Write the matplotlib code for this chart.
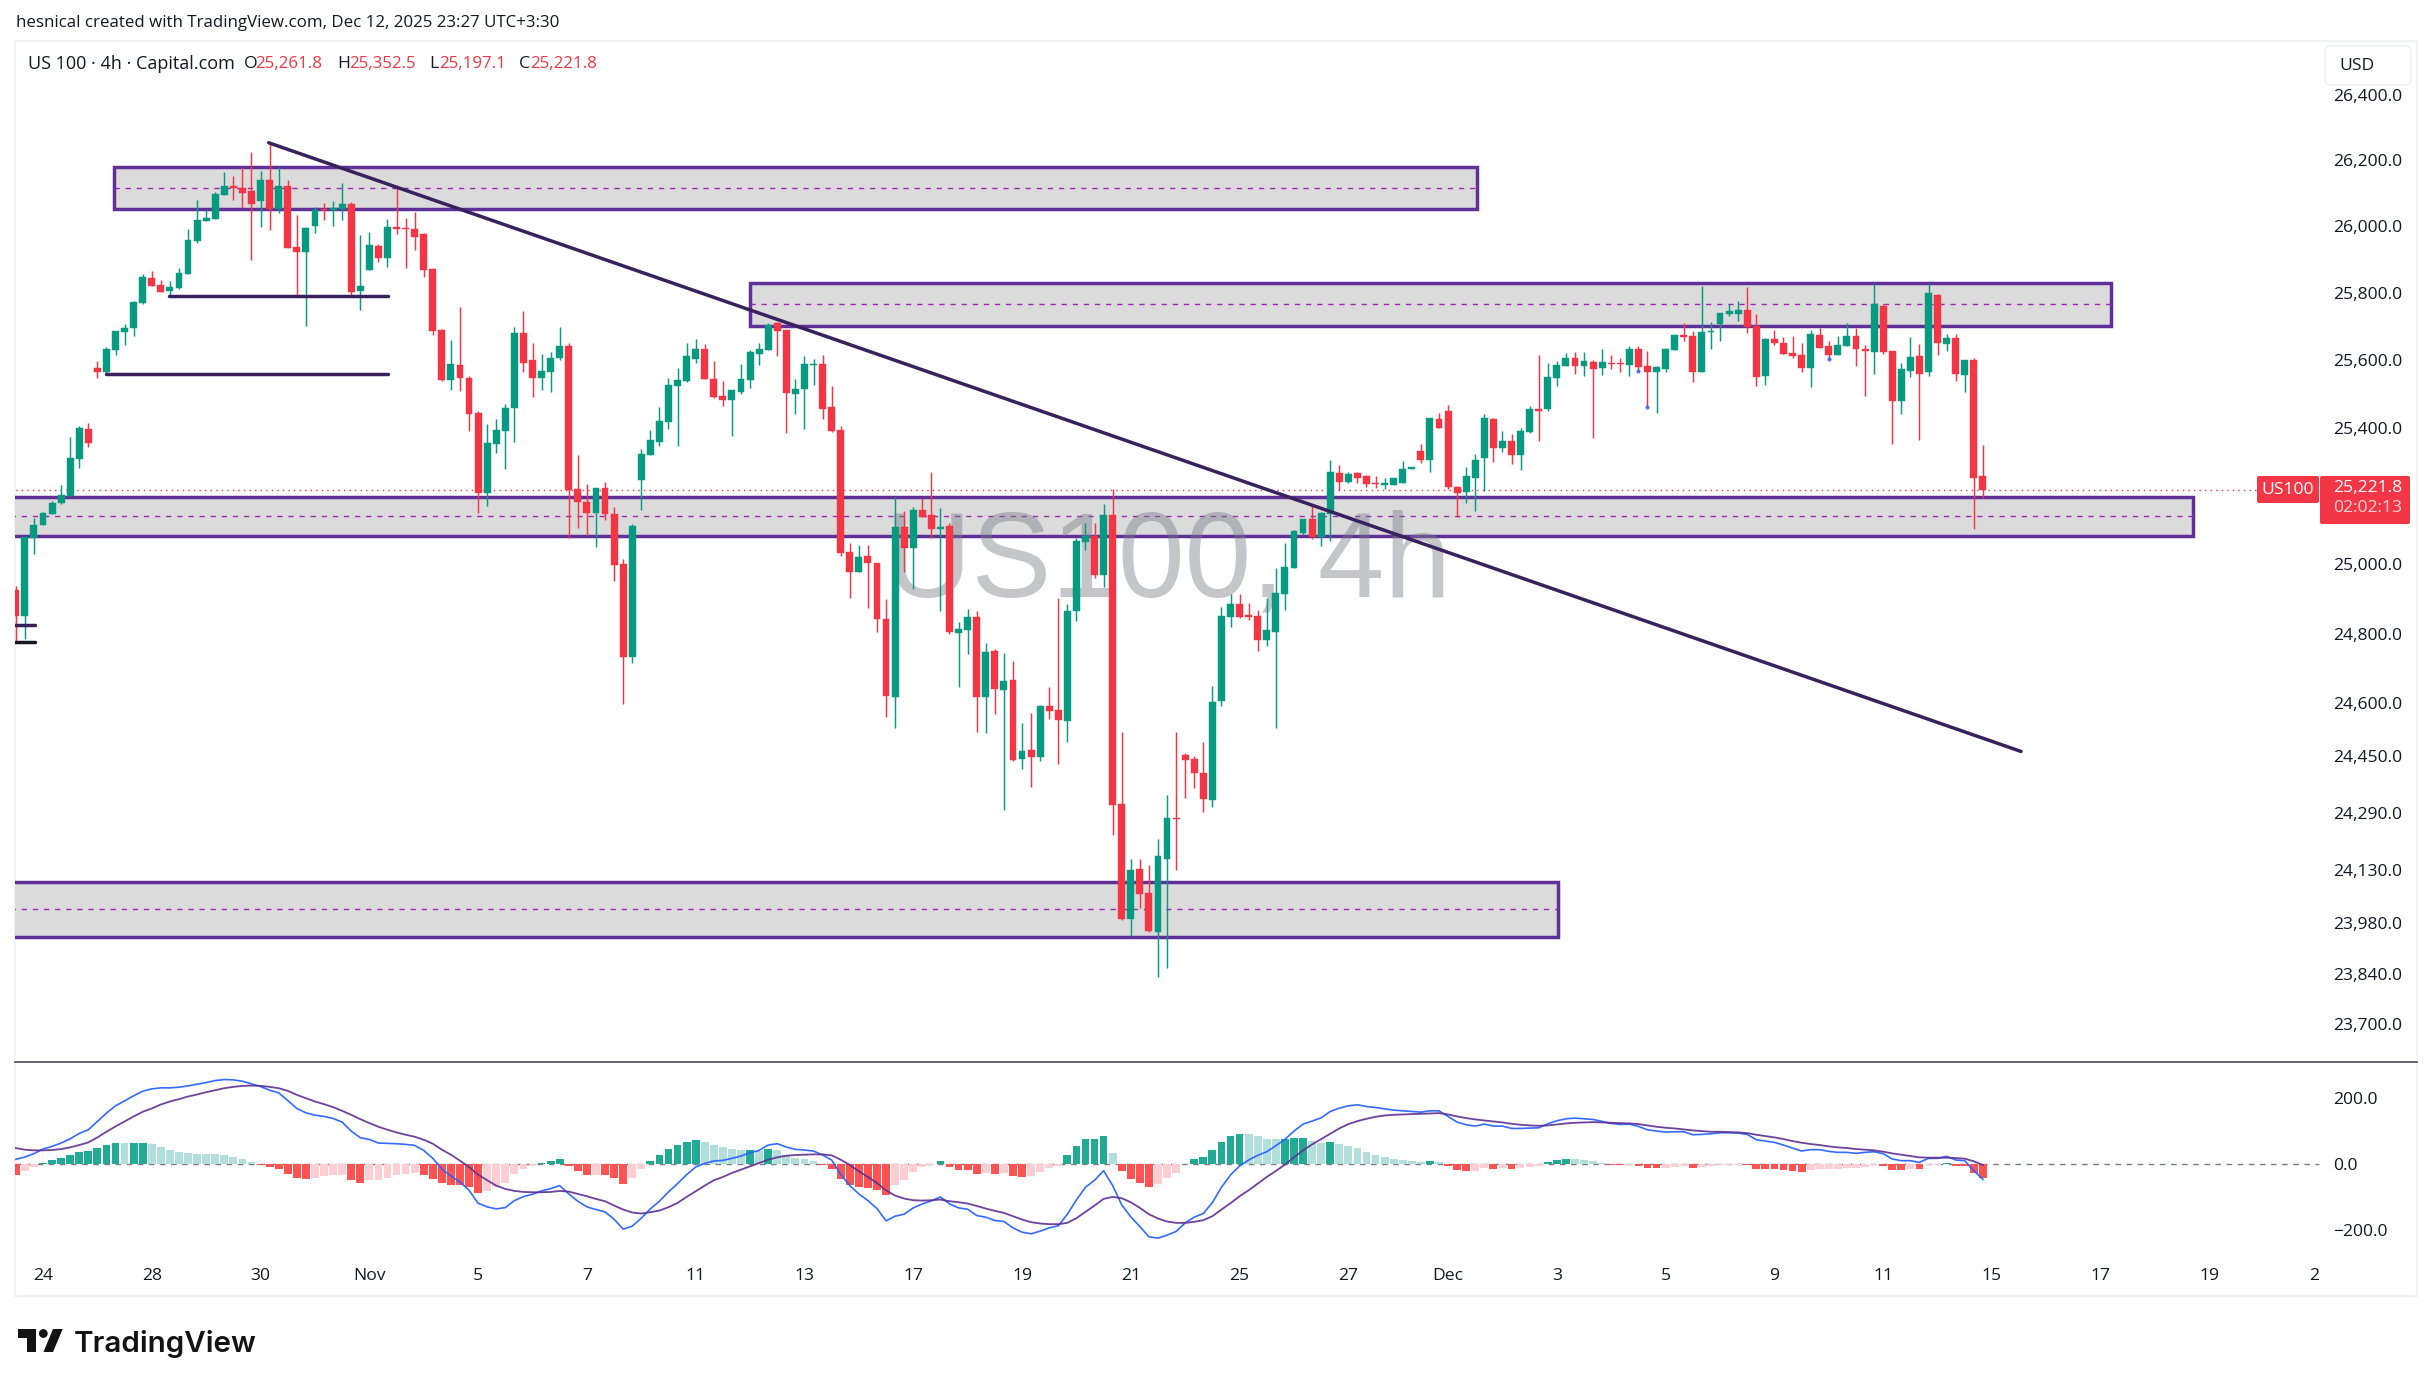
import numpy as np
import matplotlib
matplotlib.use("Agg")
import matplotlib.pyplot as plt
from matplotlib.patches import Rectangle, FancyBboxPatch, Polygon, Circle
from matplotlib.lines import Line2D
from matplotlib.ticker import NullLocator
from matplotlib.transforms import Affine2D, ScaledTranslation

opens = [24928,24854,25080,25119,25150,25182,25205,25312,25400,25583,25571,25636,25691,25702,25777,25852,25832,25814,25822,25865,
25964,26024,26031,26104,26131,26124,26115,26085,26149,26060,26131,25946,25931,26010,26060,26057,26061,26076,25814,25877,
25949,25912,26006,26003,26001,25985,25880,25697,25545,25590,25551,25447,25212,25356,25394,25462,25687,25607,25551,25571,
25611,25649,25223,25187,25155,25226,25150,25004,24736,25250,25323,25362,25423,25530,25542,25610,25640,25548,25500,25488,
25512,25545,25625,25636,25716,25696,25504,25519,25590,25593,25465,25397,25039,24983,25028,25007,24845,24620,25112,25051,
25164,25147,25108,25117,24804,24812,24850,24620,24752,24640,24669,24443,24468,24449,24596,24583,24552,24868,25068,25086,
24974,25147,24317,23993,24133,24066,23957,24160,24275,24455,24443,24404,24327,24608,24850,24888,24856,24853,24784,24809,
24917,24992,25096,25135,25085,25150,25272,25246,25270,25261,25241,25235,25235,25241,25282,25335,25311,25432,25453,25229,
25214,25258,25314,25432,25346,25367,25323,25391,25459,25459,25551,25589,25613,25589,25601,25581,25598,25598,25592,25640,
25589,25571,25578,25637,25682,25679,25571,25691,25715,25744,25744,25757,25709,25557,25670,25658,25628,25622,25581,25682,
25649,25622,25649,25679,25640,25631,25769,25634,25485,25574,25619,25569,25802,25655,25673,25562,25607,25261.8]
highs = [24940,25085,25140,25158,25190,25235,25376,25410,25420,25604,25644,25694,25715,25782,25865,25873,25847,25844,25882,26001,
26088,26057,26111,26174,26162,26187,26234,26176,26259,26187,26149,26041,26006,26067,26079,26085,26139,26081,25982,25991,
25955,26031,26132,26033,26051,25988,25882,25699,25667,25766,25559,25453,25415,25432,25474,25706,25754,25656,25625,25630,
25706,25658,25323,25238,25226,25246,25170,25019,25121,25343,25398,25465,25553,25581,25658,25669,25653,25602,25542,25516,
25593,25636,25658,25717,25721,25696,25550,25619,25609,25622,25530,25409,25065,25059,25059,25009,24902,25202,25160,25172,
25198,25273,25167,25125,24837,24873,24868,24775,24760,24746,24724,24546,24574,24599,24649,24906,24890,25081,25124,25124,
25181,25223,24521,24160,24160,24144,24217,24341,24521,24460,24451,24492,24653,24881,24919,24917,24892,24870,24906,24992,
25066,25105,25137,25177,25157,25311,25296,25275,25275,25266,25261,25256,25258,25308,25290,25358,25435,25447,25473,25232,
25290,25328,25444,25435,25396,25385,25405,25468,25622,25598,25604,25628,25631,25631,25607,25640,25622,25613,25649,25649,
25634,25589,25643,25685,25718,25694,25829,25721,25747,25775,25784,25826,25744,25673,25697,25676,25679,25658,25697,25703,
25664,25679,25718,25703,25652,25834,25775,25634,25598,25676,25655,25834,25805,25685,25685,25607,25613,25352.5]
lows = [24780,24788,25033,25119,25150,25179,25205,25285,25349,25553,25566,25622,25652,25679,25775,25828,25810,25798,25819,25865,
25958,26024,26031,26104,26088,26063,25907,26006,25998,26048,25943,25798,25709,25988,26028,26010,26028,25796,25757,25877,
25901,25886,25985,25882,25937,25856,25682,25542,25518,25515,25394,25155,25173,25331,25282,25364,25571,25497,25518,25511,
25607,25082,25109,25088,25053,25132,24954,24600,24717,25162,25323,25352,25402,25352,25540,25598,25548,25492,25468,25380,
25504,25524,25590,25636,25617,25388,25444,25400,25533,25430,25391,25028,24906,24983,24878,24808,24563,24532,24981,24932,
25141,25082,24868,24802,24649,24744,24521,24518,24572,24298,24438,24415,24363,24438,24558,24429,24492,24839,25045,24964,
24937,24228,23990,23945,24023,23957,23830,23857,24130,24333,24361,24293,24308,24594,24821,24848,24842,24752,24766,24532,
24870,24992,25090,25078,25056,25073,25220,25241,25241,25229,25226,25223,25235,25241,25282,25302,25273,25403,25223,25141,
25184,25159,25218,25305,25332,25299,25279,25388,25367,25453,25530,25589,25565,25559,25373,25562,25578,25569,25559,25571,
25465,25447,25569,25637,25664,25539,25571,25640,25664,25739,25724,25688,25530,25533,25652,25625,25613,25571,25527,25643,
25607,25622,25649,25587,25500,25565,25625,25358,25444,25554,25370,25559,25622,25634,25542,25512,25106,25197.1]
closes = [24854,25083,25120,25153,25184,25208,25314,25403,25360,25571,25639,25694,25702,25780,25856,25828,25810,25825,25867,25967,
26028,26033,26107,26131,26123,26109,26076,26149,26060,26131,25943,25931,26003,26058,26057,26064,26076,25810,25828,25952,
25912,26006,26001,26001,25976,25877,25693,25545,25593,25551,25444,25212,25359,25397,25464,25687,25598,25551,25574,25611,
25649,25220,25187,25155,25226,25150,25001,24736,25117,25326,25368,25426,25533,25545,25617,25640,25548,25495,25488,25516,
25550,25629,25640,25710,25694,25507,25521,25593,25593,25461,25394,25037,24981,25025,25007,24845,24623,25112,25051,25164,
25143,25108,25112,24808,24815,24850,24620,24750,24643,24666,24440,24466,24449,24595,24580,24554,24868,25071,25087,24972,
25147,24314,23993,24130,24063,23959,24170,24276,24274,24440,24404,24329,24606,24853,24888,24850,24850,24784,24812,24920,
24995,25100,25135,25085,25153,25275,25246,25269,25258,25238,25239,25241,25258,25282,25290,25311,25435,25403,25229,25212,
25261,25311,25435,25346,25367,25323,25396,25459,25455,25554,25592,25613,25589,25604,25578,25601,25595,25595,25640,25584,
25571,25584,25640,25682,25676,25571,25691,25694,25747,25754,25757,25706,25554,25670,25658,25625,25619,25581,25685,25643,
25622,25652,25679,25640,25634,25775,25631,25485,25578,25616,25565,25808,25658,25673,25565,25607,25258,25221.8]

hist = [-34,-22,-10,4,11,18,26,35,38,48,56,62,62,62,62,59,50,41,36,32,31,29,29,26,21,14,5,-2,-10,-14,
-29,-41,-44,-41,-37,-34,-34,-49,-56,-49,-49,-41,-34,-29,-26,-32,-44,-58,-64,-64,-70,-86,-80,-70,-56,-29,-14,-6,4,10,
16,-7,-22,-32,-32,-32,-41,-59,-41,-14,10,28,46,58,67,73,67,58,50,44,41,41,38,44,41,26,17,14,10,-2,
-14,-44,-62,-68,-71,-77,-92,-62,-47,-23,-10,-2,8,-8,-17,-17,-29,-26,-29,-26,-35,-38,-35,-23,-11,-5,26,55,74,76,
85,34,-20,-44,-56,-68,-59,-41,-26,0,14,20,41,67,85,91,91,85,76,76,76,79,79,70,64,67,61,55,49,37,
28,20,14,11,8,5,8,7,-6,-17,-20,-20,-11,-14,-11,-14,-11,-8,-6,5,11,14,14,11,8,3,-2,-4,-2,-7,
-13,-13,-13,-10,-7,-13,-10,-6,-3,-2,-2,-4,-15,-15,-15,-18,-21,-25,-17,-14,-15,-15,-13,-13,-8,-4,-6,-17,-18,-14,
-15,-2,-2,4,-6,-6,-28,-43]
# histogram bars drawn in the deep shade (the rest are pale)
deep_ids = [0,3,4,5,6,7,8,9,10,11,13,14,27,28,29,30,31,32,37,38,45,46,47,48,49,50,51,58,59,60,61,62,63,65,66,67,
70,71,72,73,74,75,81,83,89,90,91,92,93,94,95,96,102,103,104,105,106,108,110,111,116,117,118,119,120,122,123,124,125,
130,131,132,133,134,135,140,141,142,145,156,158,159,160,163,165,169,170,171,176,177,179,180,181,185,191,192,193,194,195,196,197,
206,207,208,210,213,214,215,216,217]

signal = [48,43,41,41,42,45,50,57,65,80,97,113,128,143,157,167,179,188,195,203,209,216,222,228,232,235,236,235,232,228,
220,208,198,188,180,171,160,148,135,123,112,103,95,88,82,73,61,43,28,10,-9,-32,-49,-65,-75,-81,-84,-85,-85,-84,
-81,-83,-90,-97,-105,-112,-125,-137,-146,-149,-145,-140,-130,-117,-99,-82,-65,-49,-39,-27,-17,-7,3,13,20,25,27,28,29,29,
26,13,-3,-22,-39,-57,-79,-95,-104,-109,-110,-109,-107,-112,-115,-119,-126,-134,-141,-147,-157,-167,-175,-179,-181,-181,-177,-163,-144,-125,
-105,-99,-103,-115,-132,-151,-164,-173,-177,-177,-174,-169,-157,-137,-118,-97,-79,-59,-39,-21,-2,20,41,59,75,91,107,120,129,136,
142,146,148,149,150,151,152,153,149,143,138,134,131,128,125,121,118,116,115,116,119,122,124,125,126,125,124,123,122,120,
116,112,109,107,104,101,99,97,97,96,95,93,88,84,80,75,69,64,60,57,53,50,48,45,43,41,37,32,28,24,
20,19,19,19,18,16,8,-3]

date_ticks = [3,15,27,39,51,63,75,87,99,111,123,135,147,158,170,182,194,206,218,230,242,253.5]
date_labels = ["24","28","30","Nov","5","7","11","13","17","19","21","25","27","Dec","3","5","9","11","15","17","19","2"]

price_ticks = [26400,26200,26000,25800,25600,25400,25000,24800,24600,24450,24290,24130,23980,23840,23700]
price_labels = [f"{p:,.1f}" for p in price_ticks]
macd_ticks = [200,0,-200]
macd_labels = ["200.0","0.0","\u2212200.0"]

# (start bar, end bar, top, middle, bottom)
zones = [(10.83,161.2,26187,26125,26061),
         (81.0,231.1,25836,25774,25708),
         (-5,240.2,25201,25146,25087),
         (-5,170.1,24097,24020,23942)]
trend_x, trend_y = [27.9,221.2],[26262,24465]
levels = [(16.9,41.1,25797,"#38215C"),(9.9,41.1,25564,"#38215C"),(-5,2.1,24829,"#38215C"),(-5,2.1,24779,"#131722")]
last_price = 25221.8
marker_x, marker_y = [179,180,200],[25574,25467,25610]

GREEN,RED="#089981","#F23645"
PURPLE="#5E3098"
W,H=2433,1386
FONT="Open Sans"
plt.rcParams['font.family']=[FONT,'DejaVu Sans']

fig=plt.figure(figsize=(W/100,H/100),dpi=100,facecolor="white")
px=Affine2D().scale(1/W,-1/H).translate(0,1)+fig.transFigure

def axes_px(l,t,r,b):
    return [l/W,1-b/H,(r-l)/W,(b-t)/H]

fig.add_artist(Rectangle((15,41),2402,1255,transform=px,fc="white",ec="#F1F2F4",lw=1.6,zorder=-5))
ax=fig.add_axes(axes_px(15,42,2330,1062),facecolor="none")
ax2=fig.add_axes(axes_px(15,1063,2330,1252),facecolor="none")
fig.add_artist(Line2D([15,2417],[1062,1062],transform=px,color="#363A45",lw=1.1,zorder=3))

xs=np.arange(len(opens))
o,h,l,c=map(np.array,(opens,highs,lows,closes))
ax.set_yscale("log")
xlim=((15-15.8)/9.065,(2330-15.8)/9.065)

for x0,x1,top,mid,bot in zones:
    ax.add_patch(Rectangle((x0,bot),x1-x0,top-bot,fc="#DCDBDC",ec=PURPLE,lw=2.5,zorder=1))
    ax.hlines(mid,x0,x1,color="#9C27B0",lw=1.0,linestyles=[(0,(3.8,4.2))],zorder=1.2)

ax.text(885,597,"US100, 4h",transform=px,family="Liberation Sans",fontsize=86.3,color="#787B86",alpha=0.43,
        ha="left",va="baseline",zorder=1.5)

up=c>=o
colors=np.where(up,GREEN,RED)
ax.vlines(xs,l,h,colors=colors,lw=1.05,zorder=3)
ax.bar(xs,np.abs(c-o),bottom=np.minimum(o,c),width=0.76,color=colors,edgecolor=colors,lw=0.3,zorder=3.1)

ax.hlines(last_price,-5,247.2,color=RED,lw=1.0,linestyles=[(0,(1,3))],zorder=2)
ax.scatter(marker_x,marker_y,s=9,color="#2962FF",alpha=.8,lw=0,zorder=3.5)
ax.plot(trend_x,trend_y,color="#38215C",lw=2.5,solid_capstyle="round",zorder=4)
for x0,x1,y,col in levels:
    ax.plot([x0,x1],[y,y],color=col,lw=2.5,solid_capstyle="round",zorder=4)

ax.set_xlim(*xlim); ax.set_ylim(23596,26572)
ax.yaxis.set_minor_locator(NullLocator())
ax.set_yticks(price_ticks,price_labels)
ax.yaxis.tick_right()
ax.tick_params(axis="y",length=0,pad=2.2,labelsize=12.6,labelcolor="#131722")
ax.set_xticks([])
for p,tk in zip(price_ticks,ax.yaxis.get_major_ticks()):
    nudge=max(0.0,(p-24000)/2400*3)
    tk.label2.set_transform(tk.label2.get_transform()+ScaledTranslation(0,nudge/100,fig.dpi_scale_trans))

hist=np.array(hist); signal=np.array(signal)
deep=np.isin(xs,deep_ids)
bar_col=np.where(hist>=0,np.where(deep,"#22AB94","#B2DFDB"),np.where(deep,"#FF5252","#FFCDD2"))
ax2.axhline(0,color="#787B86",lw=1.0,linestyle=(0,(4,4)),zorder=1,xmax=(2319-15)/(2330-15))
ax2.bar(xs,hist,width=0.86,color=bar_col,lw=0,zorder=2)
macd=signal+hist
ax2.plot(xs,macd,color="#2962FF",lw=1.2,alpha=.95,zorder=3)
ax2.plot(xs,signal,color="#5E2D91",lw=1.3,alpha=.9,zorder=4)
ax2.set_xlim(*xlim); ax2.set_ylim(-264.7,303.8)
ax2.set_yticks(macd_ticks,macd_labels)
ax2.yaxis.tick_right()
ax2.tick_params(axis="y",length=0,pad=2.2,labelsize=12.6,labelcolor="#131722")
ax2.set_xticks(date_ticks,date_labels)
ax2.tick_params(axis="x",length=0,pad=11.7,labelsize=12.6,labelcolor="#131722")
for a in (ax,ax2):
    for s in a.spines.values():
        s.set_visible(False)

def t(x,y,s,color="#131722",size=12.6,**kw):
    kw.setdefault("ha","left"); kw.setdefault("va","center")
    return fig.text(x,y,s,transform=px,color=color,fontsize=size,zorder=8,**kw)

t(15.5,23,"hesnical created with TradingView.com, Dec 12, 2025 23:27 UTC+3:30",size=12.2)
t(27.7,64,"US 100 \u00b7 4h \u00b7 Capital.com",size=13.0)
for lx,lab,vx,val in [(244,"O",255,"25,261.8"),(337,"H",349,"25,352.5"),(429.5,"L",439,"25,197.1"),(519,"C",530,"25,221.8")]:
    t(lx,64,lab,size=12.6)
    t(vx,64,val,color=RED,size=12.2)

fig.add_artist(FancyBboxPatch((2327,48),82,35,boxstyle="round,pad=2,rounding_size=6",transform=px,fc="white",ec="#EDEEF0",lw=1,zorder=6))
t(2339,65.5,"USD",size=12.6)

fig.add_artist(FancyBboxPatch((2258,477),60,25,boxstyle="round,pad=1,rounding_size=2",transform=px,fc=RED,ec="none",zorder=6))
t(2288,489.5,"US100",color="white",size=12.6,ha="center")
fig.add_artist(FancyBboxPatch((2321,477),88,46,boxstyle="round,pad=1,rounding_size=2",transform=px,fc=RED,ec="none",zorder=6))
t(2333,487.5,"25,221.8",color="white",size=12.6)
t(2333,508.5,"02:02:13",color="#FBD3D7",size=12.6)

# TradingView logo
for xy in ([(17.7,1329),(36,1329),(36,1352),(26.7,1352),(26.7,1338),(17.7,1338)],
           [(53,1329),(62.7,1329),(53,1352),(43.5,1352)]):
    fig.add_artist(Polygon(xy,closed=True,transform=px,fc="#131313",ec="none",zorder=6))
fig.add_artist(Circle((43.3,1333.5),4.4,transform=px,fc="#131313",ec="none",zorder=6))
fig.text(74,1352,"TradingView",transform=px,family="Inter",fontsize=21.3,weight="semibold",color="#131313",ha="left",va="baseline")

fig.savefig("out.png",dpi=100,facecolor="white")
